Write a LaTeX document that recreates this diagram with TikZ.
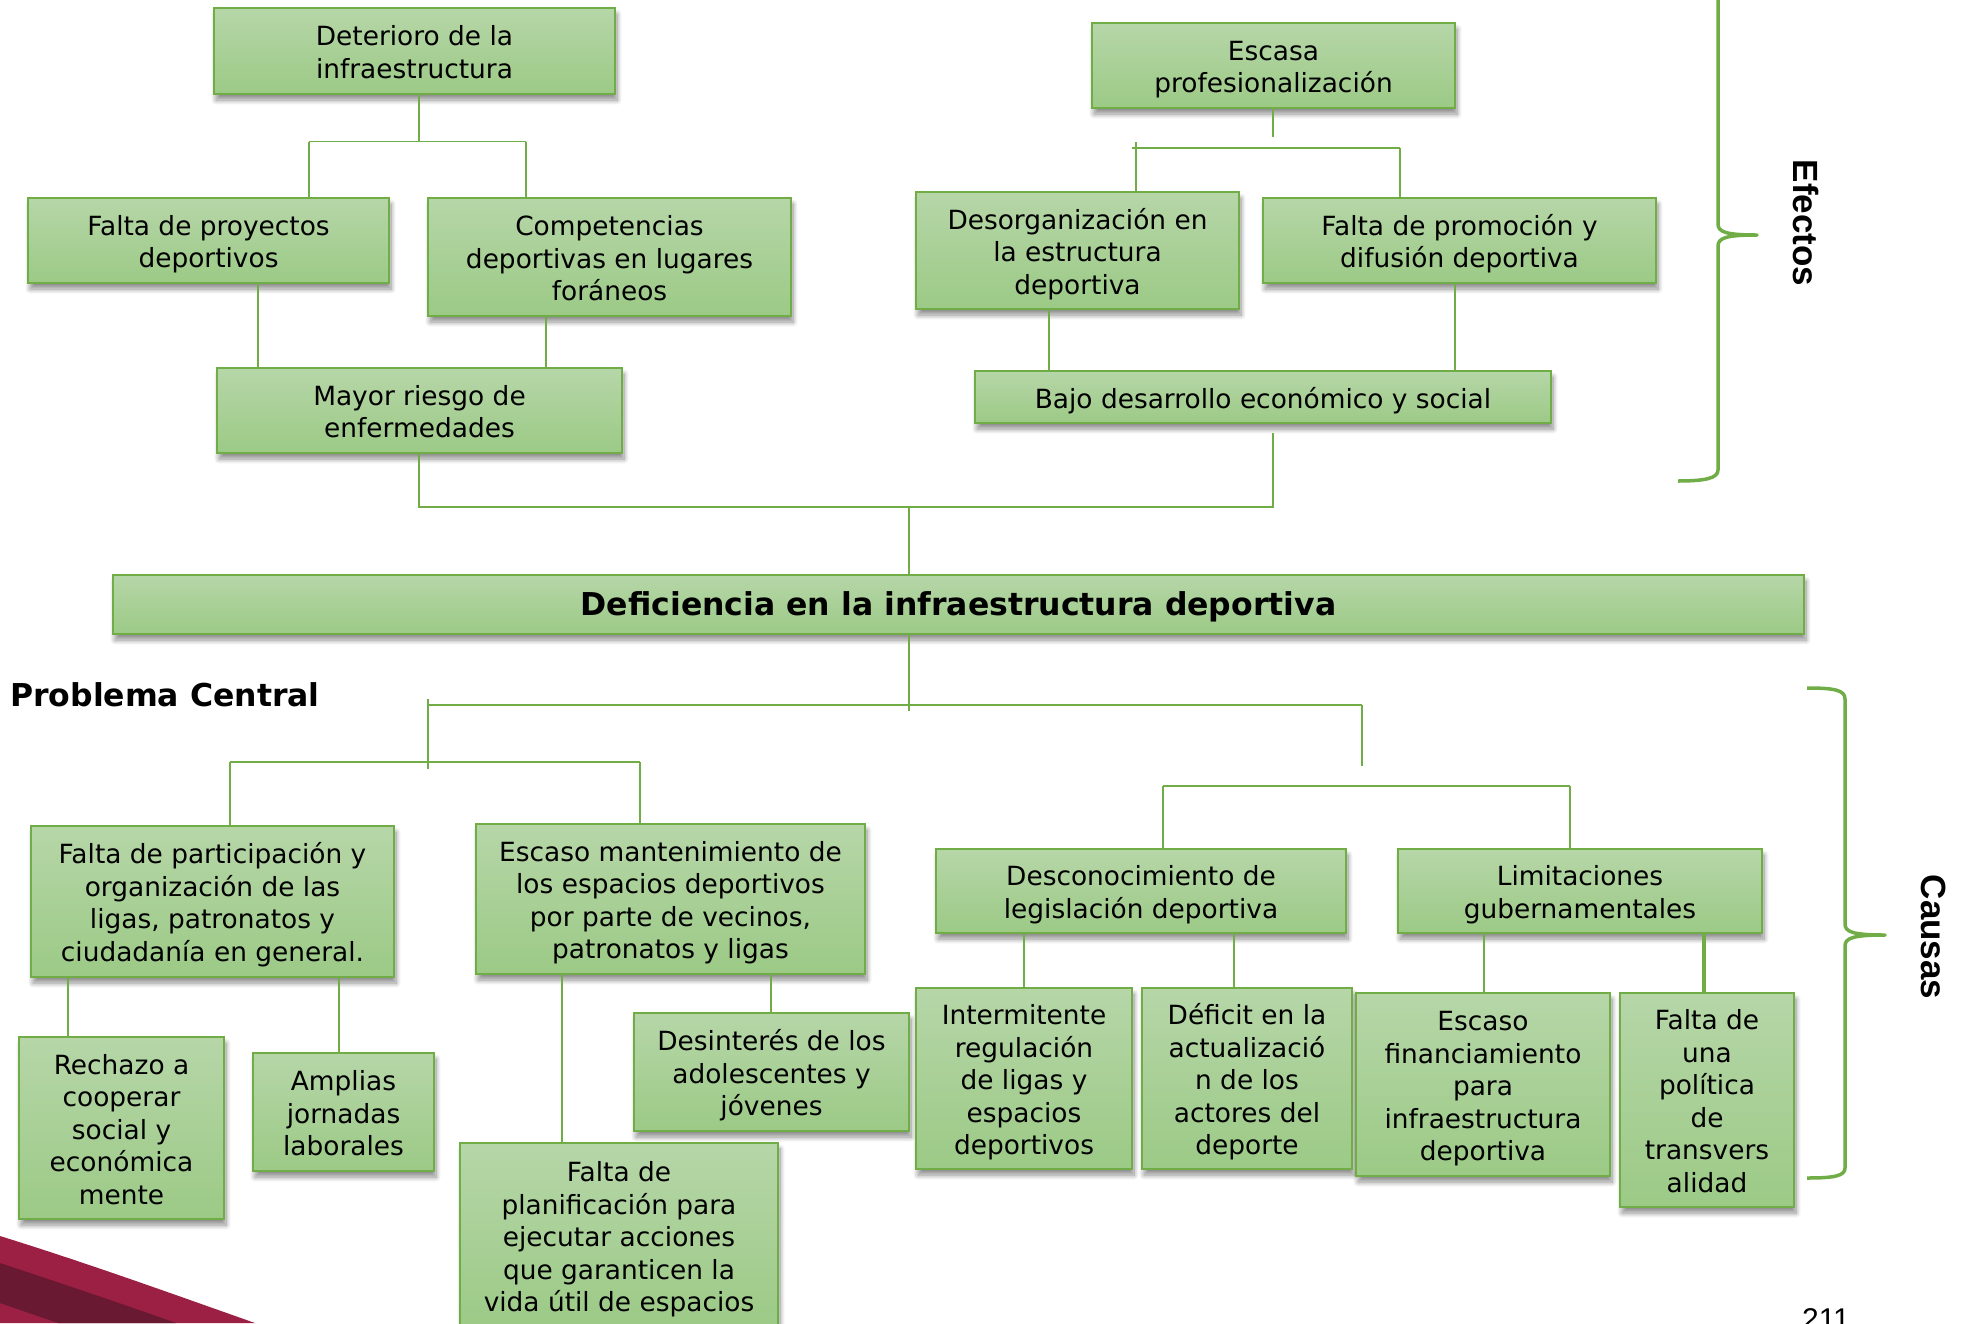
\documentclass[tikz,border=0pt]{standalone}
\usepackage{fontspec}
\setmainfont{DejaVu Sans}
\newfontfamily\arialfont{Liberation Sans}
\usetikzlibrary{shadows,shadows.blur}
\definecolor{gborder}{HTML}{70AD47}
\definecolor{gtop}{HTML}{B6D6A8}
\definecolor{gbot}{HTML}{9CCA86}
\definecolor{crim}{HTML}{9C1F44}
\definecolor{crimdark}{HTML}{6A1932}
\newcommand{\lnstrut}{\rule[-7pt]{0pt}{7pt}}
\newcommand{\ts}{\rule{0pt}{29pt}}
\begin{document}
\begin{tikzpicture}[x=1pt,y=-1pt,
  box/.style={draw=gborder, line width=1.8pt, top color=gtop, bottom color=gbot,
    inner sep=0pt, align=center, font=\fontsize{26.4}{32.5}\selectfont,
    execute at end node=\lnstrut,
    blur shadow={shadow xshift=2pt, shadow yshift=-6pt, shadow blur radius=5pt,
      shadow blur steps=10, shadow opacity=45}},
  conn/.style={draw=gborder, line width=1.8pt},
  thickconn/.style={draw=gborder, line width=4pt},
  brace/.style={draw=gborder, line width=3.5pt, line join=round},
  side/.style={font=\arialfont\bfseries\fontsize{35}{40}\selectfont, rotate=-90, inner sep=0pt},
  boldtxt/.style={font=\bfseries\fontsize{31.5}{36}\selectfont},
]
\useasboundingbox (0,0) rectangle (1963,1323);

% decorative corner
\fill[crim] (0,1236) .. controls (90,1264) and (170,1293) .. (255,1323) -- (0,1323) -- cycle;
\fill[crimdark] (0,1263) .. controls (60,1283) and (120,1303) .. (176,1323) -- (58,1323) -- (0,1303) -- cycle;

% effects
\node[box, minimum width=401pt, minimum height=86pt] (det) at (414.5,51) {\ts Deterioro de la\\infraestructura};
\node[box, minimum width=363pt, minimum height=85pt] (esc) at (1273.5,65.5) {\ts Escasa\\profesionalización};
\node[box, minimum width=361pt, minimum height=85pt] (fpd) at (208.5,240.5) {\ts Falta de proyectos\\deportivos};
\node[box, minimum width=363pt, minimum height=118pt] (comp) at (609.5,257) {\ts Competencias\\deportivas en lugares\\foráneos};
\node[box, minimum width=323pt, minimum height=117pt] (desorg) at (1077.5,250.5) {\ts Desorganización en\\la estructura\\deportiva};
\node[box, minimum width=393pt, minimum height=85pt] (fprom) at (1459.5,240.5) {\ts Falta de promoción y\\difusión deportiva};
\node[box, minimum width=405pt, minimum height=85pt] (mayor) at (419.5,410.5) {\ts Mayor riesgo de\\enfermedades};
\node[box, minimum width=576pt, minimum height=52pt] (bajo) at (1263,397) {\ts Bajo desarrollo económico y social};

% central problem
\node[box, boldtxt, minimum width=1691pt, minimum height=59pt] (central) at (958.5,604.5) {\ts Deficiencia en la infraestructura deportiva};
\node[boldtxt, anchor=west, inner sep=0pt] (prob) at (10,695) {Problema Central};

% causes
\node[box, minimum width=363pt, minimum height=151pt] (fpart) at (212.5,901.5) {\ts Falta de participación y\\organización de las\\ligas, patronatos y\\ciudadanía en general.};
\node[box, minimum width=389pt, minimum height=150pt] (emant) at (670.5,899) {\ts Escaso mantenimiento de\\los espacios deportivos\\por parte de vecinos,\\patronatos y ligas};
\node[box, minimum width=410pt, minimum height=84pt] (descon) at (1141,891) {\ts Desconocimiento de\\legislación deportiva};
\node[box, minimum width=364pt, minimum height=84pt] (limit) at (1580,891) {\ts Limitaciones\\gubernamentales};
\node[box, minimum width=205pt, minimum height=182pt] (rech) at (121.5,1128) {\ts Rechazo a\\cooperar\\social y\\económica\\mente};
\node[box, minimum width=181pt, minimum height=118pt] (ampl) at (343.5,1112) {\ts Amplias\\jornadas\\laborales};
\node[box, minimum width=275pt, minimum height=118pt] (desint) at (771.5,1072) {\ts Desinterés de los\\adolescentes y\\jóvenes};
\node[box, minimum width=318pt, inner ysep=10pt, anchor=north] (fplan) at (619,1142) {\ts Falta de\\planificación para\\ejecutar acciones\\que garanticen la\\vida útil de espacios};
\node[box, minimum width=216pt, minimum height=181pt] (inter) at (1024,1078.5) {\ts Intermitente\\regulación\\de ligas y\\espacios\\deportivos};
\node[box, minimum width=210pt, minimum height=181pt] (defic) at (1247,1078.5) {\ts Déficit en la\\actualizació\\n de los\\actores del\\deporte};
\node[box, minimum width=254pt, minimum height=183pt] (efin) at (1483,1084.5) {\ts Escaso\\financiamiento\\para\\infraestructura\\deportiva};
\node[box, minimum width=174pt, minimum height=214pt] (fpol) at (1707,1100) {\ts Falta de\\una\\política\\de\\transvers\\alidad};

% connectors: top-left tree
\coordinate (a1) at (419,141.5);
\coordinate (a1l) at (309,141.5);
\coordinate (a1r) at (526,141.5);
\draw[conn] (det.south -| a1) -- (a1);
\draw[conn] (a1l) -- (a1r);
\draw[conn] (a1l) -- (fpd.north -| a1l);
\draw[conn] (a1r) -- (comp.north -| a1r);
\coordinate (b1) at (258,0);
\coordinate (b2) at (546,0);
\draw[conn] (fpd.south -| b1) -- (mayor.north -| b1);
\draw[conn] (comp.south -| b2) -- (mayor.north -| b2);

% top-right tree
\coordinate (c0) at (1273,137);
\coordinate (c1l) at (1132,148);
\coordinate (c1r) at (1400,148);
\coordinate (c2) at (1136,142);
\draw[conn] (esc.south -| c0) -- (c0);
\draw[conn] (c1l) -- (c1r);
\draw[conn] (c2) -- (desorg.north -| c2);
\draw[conn] (c1r) -- (fprom.north -| c1r);
\coordinate (d1) at (1049,0);
\coordinate (d2) at (1455,0);
\draw[conn] (desorg.south -| d1) -- (bajo.north -| d1);
\draw[conn] (fprom.south -| d2) -- (bajo.north -| d2);

% effects to central
\coordinate (e1) at (419,507);
\coordinate (e2) at (1273,507);
\coordinate (e0) at (909,507);
\coordinate (e2t) at (1273,433);
\draw[conn] (mayor.south -| e1) -- (e1) -- (e2) -- (e2t);
\draw[conn] (e0) -- (central.north -| e0);

% central to causes
\coordinate (f0) at (909,711);
\coordinate (fl) at (428,705);
\coordinate (fr) at (1362,705);
\coordinate (fl1) at (428,699);
\coordinate (fl2) at (428,769);
\coordinate (fr2) at (1362,766);
\draw[conn] (central.south -| f0) -- (f0);
\draw[conn] (fl) -- (fr);
\draw[conn] (fl1) -- (fl2);
\draw[conn] (fr) -- (fr2);
\coordinate (gl) at (230,762);
\coordinate (gr) at (640,762);
\draw[conn] (gl) -- (gr);
\draw[conn] (gl) -- (fpart.north -| gl);
\draw[conn] (gr) -- (emant.north -| gr);
\coordinate (hl) at (1163,786);
\coordinate (hr) at (1570,786);
\draw[conn] (hl) -- (hr);
\draw[conn] (hl) -- (descon.north -| hl);
\draw[conn] (hr) -- (limit.north -| hr);

% leaves
\coordinate (k1) at (68,0);
\coordinate (k2) at (339,0);
\coordinate (k3) at (562,0);
\coordinate (k4) at (771,0);
\coordinate (k5) at (1024,0);
\coordinate (k6) at (1234,0);
\coordinate (k7) at (1484,0);
\coordinate (k8) at (1704,0);
\draw[conn] (fpart.south -| k1) -- (rech.north -| k1);
\draw[conn] (fpart.south -| k2) -- (ampl.north -| k2);
\draw[conn] (emant.south -| k3) -- (fplan.north -| k3);
\draw[conn] (emant.south -| k4) -- (desint.north -| k4);
\draw[conn] (descon.south -| k5) -- (inter.north -| k5);
\draw[conn] (descon.south -| k6) -- (defic.north -| k6);
\draw[conn] (limit.south -| k7) -- (efin.north -| k7);
\draw[thickconn] (limit.south -| k8) -- (fpol.north -| k8);

% braces
\draw[brace] (1718,-5) -- (1718,224) .. controls (1718,232) and (1726,235) .. (1757,235)
  .. controls (1726,235) and (1718,238) .. (1718,246) -- (1718,470)
  .. controls (1718,478) and (1706,481) .. (1678,481);
\draw[brace] (1807,688) .. controls (1834,688) and (1845,690) .. (1845,699) -- (1845,924)
  .. controls (1845,932) and (1853,935) .. (1885,935)
  .. controls (1853,935) and (1845,938) .. (1845,946) -- (1845,1168)
  .. controls (1845,1176) and (1834,1178) .. (1807,1178);
\node[side] (efl) at (1806,223) {Efectos};
\node[side] (cal) at (1934,937) {Causas};
\node[anchor=north, inner sep=0pt, font=\arialfont\fontsize{30}{34}\selectfont] (pg) at (1826,1308) {211};
\end{tikzpicture}
\end{document}
